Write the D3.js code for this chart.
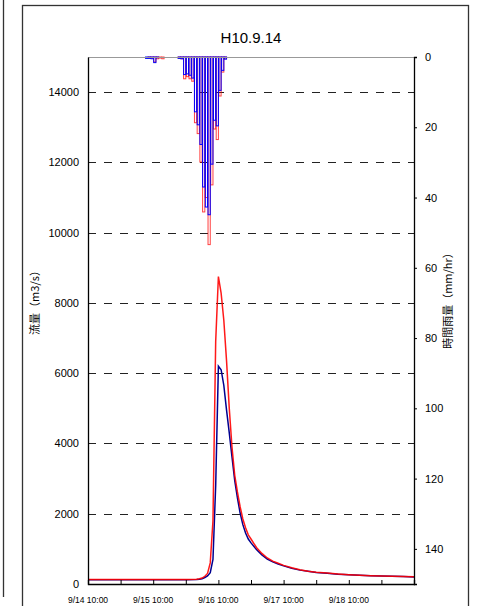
<!DOCTYPE html>
<html>
<head>
<meta charset="utf-8">
<script src="https://cdn.jsdelivr.net/npm/d3@7"></script>
<style>
  html, body { margin: 0; padding: 0; background: #fff; }
  svg { display: block; }
</style>
</head>
<body>
<div id="chart"></div>
<script>
// hours counted from 9/14 10:00
const flowHours = [0, 12, 24, 36, 40, 41, 42, 43, 44, 45, 46, 47, 48, 49, 50, 51, 52, 53, 54, 55, 56, 57, 58, 59, 60, 62, 64, 66, 68, 70, 72, 75, 78, 81, 84, 88, 92, 96, 100, 104, 108, 112, 116, 120];
const flowRed   = [130, 130, 130, 130, 135, 150, 170, 220, 300, 600, 1800, 6900, 8750, 8280, 7500, 6350, 5000, 3900, 3100, 2620, 2200, 1850, 1600, 1400, 1280, 1040, 870, 740, 650, 590, 530, 460, 405, 365, 335, 310, 285, 265, 250, 238, 228, 220, 213, 205];
const flowBlue  = [120, 120, 120, 120, 125, 135, 150, 185, 230, 320, 700, 2800, 6200, 6100, 5650, 4950, 4300, 3620, 2950, 2450, 2020, 1690, 1450, 1280, 1170, 980, 830, 710, 630, 570, 515, 450, 395, 360, 330, 305, 280, 262, 248, 236, 226, 218, 210, 200];

const rainHours = [21, 22, 23, 24, 25, 26, 27, 33, 34, 35, 36, 37, 38, 39, 40, 41, 42, 43, 44, 45, 46, 47, 48, 49, 50];
const rainRed   = [0, 0.2, 0.3, 1.4, 0.5, 0.3, 0.5, 0.3, 0.5, 6.2, 5.6, 6.2, 6.9, 18.7, 21.8, 29.9, 44.1, 40.0, 53.4, 36.4, 20.5, 23.5, 11.1, 4.3, 0.5];
const rainBlue  = [0.4, 0.4, 0.5, 1.6, 0.2, 0, 0, 0.4, 0.5, 5.0, 4.8, 5.2, 6.0, 15.6, 19.3, 24.9, 37.0, 42.7, 44.9, 30.5, 18.0, 19.6, 9.5, 3.8, 0.6];

const xTickHours  = [0, 12, 24, 36, 48, 60, 72, 84, 96, 108, 120];
const xLabelHours = [0, 24, 48, 72, 96];
const xLabels     = ["9/14 10:00", "9/15 10:00", "9/16 10:00", "9/17 10:00", "9/18 10:00"];
const flowTicks   = [0, 2000, 4000, 6000, 8000, 10000, 12000, 14000];
const rainTicks   = [0, 20, 40, 60, 80, 100, 120, 140];

const W = 479, H = 606;
const m = { left: 88, right: 414, top: 57, bottom: 584 };

const svg = d3.select("#chart").append("svg").attr("width", W).attr("height", H);

// panel frames
svg.append("line").attr("x1", 3.5).attr("x2", 3.5).attr("y1", 0).attr("y2", 597)
    .attr("stroke", "#333").attr("stroke-width", 1.3);
svg.append("rect").attr("x", 22.5).attr("y", 5.5).attr("width", 446).attr("height", 620)
    .attr("fill", "none").attr("stroke", "#333").attr("stroke-width", 1.3);

const x = d3.scaleLinear().domain([0, 120]).range([m.left, m.right]);
const yFlow = d3.scaleLinear().domain([0, 15000]).range([m.bottom, m.top]);
const yRain = d3.scaleLinear().domain([0, 150]).range([m.top, m.bottom]);

// title
svg.append("text").attr("x", (m.left + m.right) / 2).attr("y", 43)
    .attr("text-anchor", "middle").attr("font-family", "Liberation Sans, Arial, sans-serif")
    .attr("font-size", 15).attr("fill", "#000").text("H10.9.14");

// dashed gridlines
svg.append("g").selectAll("line").data(flowTicks.filter(d => d > 0)).join("line")
    .attr("x1", m.left).attr("x2", m.right)
    .attr("y1", d => Math.round(yFlow(d)) + 0.5).attr("y2", d => Math.round(yFlow(d)) + 0.5)
    .attr("stroke", "#222").attr("stroke-width", 1).attr("stroke-dasharray", "8,8");

// rainfall bars hanging from the top
const rainG = svg.append("g");
function drawRain(vals, color, op) {
    rainG.append("g").selectAll("rect")
        .data(rainHours.map((h, i) => ({ h, v: vals[i] })).filter(d => d.v > 0))
        .join("rect")
        .attr("x", d => x(d.h) + 0.5)
        .attr("width", d => x(d.h + 1) - x(d.h) - 0.5)
        .attr("y", yRain(0))
        .attr("height", d => yRain(d.v) - yRain(0))
        .attr("fill", "none").attr("stroke", color).attr("stroke-width", 1)
        .attr("stroke-opacity", op);
}
drawRain(rainRed, "#ff0000", 0.75);
drawRain(rainBlue, "#0000ff", 1);

// flow lines
const line = vals => d3.line().x((d, i) => x(flowHours[i])).y(d => yFlow(d))(vals);
svg.append("path").attr("d", line(flowBlue)).attr("fill", "none")
    .attr("stroke", "#000090").attr("stroke-width", 1.5);
svg.append("path").attr("d", line(flowRed)).attr("fill", "none")
    .attr("stroke", "#ff0000").attr("stroke-width", 1.5).attr("stroke-opacity", 0.9);

// axes frame
svg.append("line").attr("x1", m.left).attr("x2", m.right).attr("y1", m.top + 0.5).attr("y2", m.top + 0.5)
    .attr("stroke", "#999").attr("stroke-width", 1);

const axisFont = "Liberation Sans, Arial, sans-serif";

const gx = svg.append("g").attr("transform", `translate(0,${m.bottom})`)
    .call(d3.axisBottom(x).tickValues(xTickHours).tickSize(-4).tickFormat(""));
gx.select(".domain").attr("stroke", "#000").attr("stroke-width", 1.3);
gx.selectAll(".tick line").attr("stroke", "#000");

svg.append("g").selectAll("text").data(xLabelHours).join("text")
    .attr("x", d => x(d)).attr("y", 603).attr("text-anchor", "middle")
    .attr("font-family", axisFont).attr("font-size", 8.5).attr("fill", "#000")
    .text((d, i) => xLabels[i]);

const gl = svg.append("g").attr("transform", `translate(${m.left},0)`)
    .call(d3.axisLeft(yFlow).tickValues(flowTicks).tickSize(0).tickPadding(9).tickFormat(d3.format("d")));
gl.select(".domain").attr("stroke", "#000").attr("stroke-width", 1.3);
gl.selectAll("text").attr("font-family", axisFont).attr("font-size", 11).attr("fill", "#000");

const gr = svg.append("g").attr("transform", `translate(${m.right},0)`)
    .call(d3.axisRight(yRain).tickValues(rainTicks).tickSize(3).tickPadding(8));
gr.select(".domain").attr("stroke", "#000").attr("stroke-width", 1.3);
gr.selectAll(".tick line").attr("stroke", "#000");
gr.selectAll("text").attr("font-family", axisFont).attr("font-size", 11).attr("fill", "#000");

// axis titles
svg.append("text").attr("transform", "translate(39,300) rotate(-90)")
    .attr("text-anchor", "middle").attr("font-family", "Noto Sans CJK JP, sans-serif")
    .attr("font-size", 11).attr("fill", "#000").text("流量（m3/s）");
svg.append("text").attr("transform", "translate(452,298) rotate(-90)")
    .attr("text-anchor", "middle").attr("font-family", "Noto Sans CJK JP, sans-serif")
    .attr("font-size", 11).attr("fill", "#000").text("時間雨量（mm/hr）");
</script>
</body>
</html>
